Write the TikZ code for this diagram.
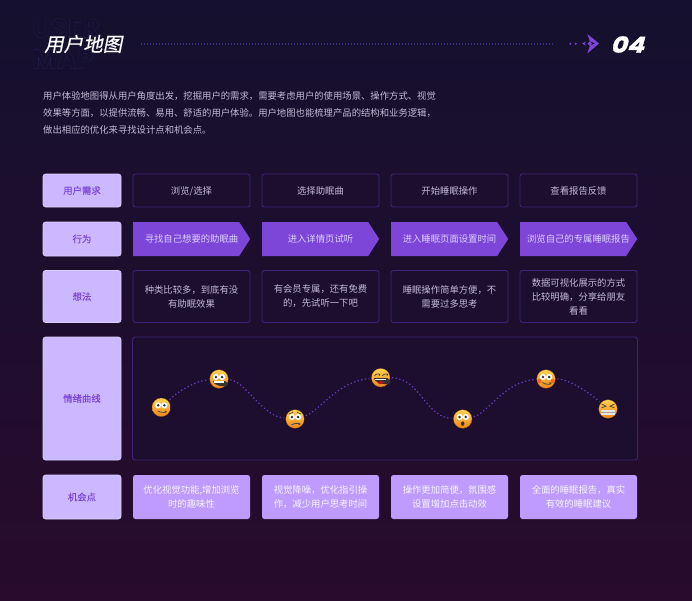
\documentclass[tikz,border=0pt]{standalone}
\usepackage{fontspec}
\usepackage{xcolor}
\usetikzlibrary{shapes.symbols}
\setmainfont{Noto Sans CJK SC}
\newfontfamily\titlefont[FakeSlant=0.2,FakeBold=0.6]{Noto Sans CJK SC}
\newfontfamily\medfont[FakeBold=0.15]{Noto Sans CJK SC}
\newfontfamily\ghostfont[FakeBold=0.3]{Poppins Bold}
\newfontfamily\numfont[FakeSlant=0.28,FakeBold=1.5,FakeStretch=1.15]{Poppins}

\definecolor{bgtop}{HTML}{15102F}
\definecolor{bgbot}{HTML}{280B2D}
\definecolor{lilac}{HTML}{CBB8FF}
\definecolor{lilacline}{HTML}{DCCFFF}
\definecolor{violet}{HTML}{7D45D8}
\definecolor{softviolet}{HTML}{BF9BFF}
\definecolor{frameline}{HTML}{3D2275}
\definecolor{framefill}{HTML}{1D0E30}
\definecolor{bodytext}{HTML}{C2B9D4}
\definecolor{dotline}{HTML}{6A38C0}
\definecolor{headdot}{HTML}{3F2C7E}
\definecolor{skinin}{HTML}{FFD24E}
\definecolor{skinout}{HTML}{F0851E}

\newcommand{\ghosttext}[1]{\special{pdf:code q 0.2 0.16 0.38 RG 0.082 0.063 0.184 rg}#1\special{pdf:code Q}}

\tikzset{
  base/.style={font=\fontsize{9.35}{14}\selectfont,align=center,inner sep=0pt},
  lab/.style={base,font=\fontsize{9.35}{14}\medfont,rectangle,rounded corners=2.5pt,draw=lilacline,line width=0.6pt,fill=lilac,text=violet,minimum width=78pt},
  frame/.style={base,rectangle,rounded corners=2.5pt,draw=frameline,line width=0.9pt,fill=framefill,text=bodytext,minimum width=117pt},
  act/.style={inner sep=0pt,signal,signal to=east,signal pointer angle=114,fill=violet,minimum width=117pt,minimum height=34pt,anchor=west},
  acttxt/.style={base,text=lilacline},
  opp/.style={base,rectangle,rounded corners=2.5pt,fill=softviolet,text=white!88!softviolet,minimum width=117pt,minimum height=44pt},
  ghost/.style={anchor=west,inner sep=0pt,font=\fontsize{27}{20}\ghostfont},
  face/.style={circle,minimum size=18.6pt,inner sep=0pt,outer sep=2pt,draw=black!45!skinout,line width=0.2pt,top color=skinin,bottom color=skinout},
  curve/.style={draw=dotline,line width=1.2pt,dash pattern=on 1.3pt off 2.4pt},
  faceeyes/.pic={
    \fill[white] (-3.1,-2) circle (3.1) (3.1,-2) circle (3.1);
    \fill[black!80] (-3.1,-2) circle (1.4) (3.1,-2) circle (1.4);
  }
}

\begin{document}
\begin{tikzpicture}[x=1pt,y=-1pt]
  \shade[top color=bgtop,bottom color=bgbot] (0,0) rectangle (692,600);
  \useasboundingbox (0,0) rectangle (692,600);

  % header
  \node[ghost] (ghost1) at (32,28) {\ghosttext{USER}};
  \node[ghost] (ghost2) at (32,59) {\ghosttext{MAP}};
  \node[anchor=west,inner sep=0pt,text=white,font=\fontsize{19.5}{20}\titlefont] (title) at (44,44) {用户地图};
  \node[anchor=west,inner sep=0pt,text=white,font=\fontsize{22}{20}\numfont\bfseries] (num) at (610,44.5) {04};

  \coordinate (rulea) at (141,44);
  \coordinate (ruleb) at (554,44);
  \draw[headdot,line width=1.2pt,dash pattern=on 1.2pt off 1.8pt] (rulea) -- (ruleb);
  \fill[violet] (570.3,43.8) circle (1.1) (575.7,43.8) circle (1.1);
  \fill[violet] (587.3,34) -- (599,43.5) -- (587.3,53.5) -- (590,45.5) -- (595.5,43.5) -- (590,41.5) -- cycle;
  \fill[violet] (589.7,41.3) -- (592,43.6) -- (589.7,45.9) -- (587.4,43.6) -- cycle;
  \fill[violet] (586,41.5) -- (582,43.6) -- (586,45.7) -- (584.5,43.6) -- cycle;

  \node[anchor=north west,inner sep=0pt,align=left,text=bodytext,font=\fontsize{9.35}{16.8}\selectfont] (intro) at (43,91.5) {用户体验地图得从用户角度出发，挖掘用户的需求，需要考虑用户的使用场景、操作方式、视觉\\效果等方面，以提供流畅、易用、舒适的用户体验。用户地图也能梳理产品的结构和业务逻辑，\\做出相应的优化来寻找设计点和机会点。};

  % left column
  \node[lab,minimum height=33pt] (lab1) at (82,190.5) {用户需求};
  \node[lab,minimum height=34pt] (lab2) at (82,239) {行为};
  \node[lab,minimum height=52pt] (lab3) at (82,296.5) {想法};
  \node[lab,minimum height=123pt] (lab4) at (82,398.5) {情绪曲线};
  \node[lab,minimum height=44pt] (lab5) at (82,497) {机会点};

  % user needs
  \node[frame,minimum height=33pt] (need1) at (191.5,190.5) {浏览\smash{/}选择};
  \node[frame,minimum height=33pt] (need2) at (320.5,190.5) {选择助眠曲};
  \node[frame,minimum height=33pt] (need3) at (449.5,190.5) {开始睡眠操作};
  \node[frame,minimum height=33pt] (need4) at (578.5,190.5) {查看报告反馈};

  % actions
  \node[act] (act1) at (133,239) {};
  \node[act] (act2) at (262,239) {};
  \node[act] (act3) at (391,239) {};
  \node[act] (act4) at (520,239) {};
  \node[acttxt] (acttxt1) at (191.5,239) {寻找自己想要的助眠曲};
  \node[acttxt] (acttxt2) at (320.5,239) {进入详情页试听};
  \node[acttxt] (acttxt3) at (449.5,239) {进入睡眠页面设置时间};
  \node[acttxt] (acttxt4) at (578.5,239) {浏览自己的专属睡眠报告};

  % thoughts
  \node[frame,minimum height=52pt] (thk1) at (191.5,296.5) {种类比较多，到底有没\\有助眠效果};
  \node[frame,minimum height=52pt] (thk2) at (320.5,296.5) {有会员专属，还有免费\\的，先试听一下吧};
  \node[frame,minimum height=52pt] (thk3) at (449.5,296.5) {睡眠操作简单方便，不\\需要过多思考};
  \node[frame,minimum height=52pt] (thk4) at (578.5,296.5) {数据可视化展示的方式\\比较明确，分享给朋友\\看看};

  % emotion curve
  \node[frame,minimum width=505pt,minimum height=123pt] (panel) at (385,398.5) {};
  \node[face] (f1) at (161.3,407.3) {};
  \node[face] (f2) at (219,379) {};
  \node[face] (f3) at (295,419) {};
  \node[face] (f4) at (380.7,377.7) {};
  \node[face] (f5) at (462.7,419) {};
  \node[face] (f6) at (546,379) {};
  \node[face] (f7) at (608,409) {};

  \draw[curve] (f1) .. controls (181,389) and (196,381) .. (f2);
  \draw[curve] (f2) .. controls (245,381) and (262,416) .. (f3);
  \draw[curve] (f3) .. controls (318,412) and (338,381) .. (f4);
  \draw[curve] (f4) .. controls (420,378) and (425,417) .. (f5);
  \draw[curve] (f5) .. controls (487,414) and (505,381) .. (f6);
  \draw[curve] (f6) .. controls (570,379) and (592,395) .. (f7);

  \path (f1) pic {faceeyes};
  \draw[black!75,line width=0.7pt] ([shift={(-3.5,3.5)}]f1.center) .. controls +(1.5,2.2) and +(5.5,2.2) .. +(7,0);

  \path (f2) pic {faceeyes};
  \fill[black!80] ([shift={(-6,2)}]f2.center) -- +(12,0) .. controls +(11,7) and +(1,7) .. +(0,0) -- cycle;
  \fill[white] ([shift={(-5.4,2.2)}]f2.center) rectangle +(10.8,1.6);

  \path (f3) pic {faceeyes};
  \draw[black!75,line width=0.6pt] ([shift={(-6,-5)}]f3.center) -- +(4,-1.8) ([shift={(6,-5)}]f3.center) -- +(-4,-1.8);
  \draw[black!75,line width=0.8pt] ([shift={(-3.5,6)}]f3.center) .. controls +(1.5,-2.2) and +(5.5,-2.2) .. +(7,0);

  \draw[black!75,line width=0.7pt] ([shift={(-6.2,-2)}]f4.center) .. controls +(1,-2.4) and +(3.5,-2.4) .. +(4.5,0);
  \draw[black!75,line width=0.7pt] ([shift={(1.7,-2)}]f4.center) .. controls +(1,-2.4) and +(3.5,-2.4) .. +(4.5,0);
  \fill[black!80] ([shift={(-6.5,0.5)}]f4.center) -- +(13,0) .. controls +(12,8) and +(1,8) .. +(0,0) -- cycle;
  \fill[white] ([shift={(-5.6,0.8)}]f4.center) rectangle +(11.2,1.5);
  \fill[red!65!black!90!white] ([shift={(0,4.9)}]f4.center) ellipse (3.2 and 1.4);

  \path (f5) pic {faceeyes};
  \fill[black!80] ([shift={(0,4.6)}]f5.center) ellipse (1.7 and 2.2);

  \fill[red!70!orange,opacity=0.5] ([shift={(-6.8,2)}]f6.center) circle (2.2) ([shift={(6.8,2)}]f6.center) circle (2.2);
  \path (f6) pic {faceeyes};
  \draw[black!75,line width=0.8pt] ([shift={(-3.5,3.5)}]f6.center) .. controls +(1.5,2.4) and +(5.5,2.4) .. +(7,0);

  \draw[black!75,line width=0.7pt] ([shift={(-6.5,-5)}]f7.center) -- +(4.5,2.2) -- +(0,3.8);
  \draw[black!75,line width=0.7pt] ([shift={(6.5,-5)}]f7.center) -- +(-4.5,2.2) -- +(0,3.8);
  \fill[white!90!black] ([shift={(-7,0.5)}]f7.center) rectangle +(14,5);
  \draw[black!35,line width=0.4pt] ([shift={(-7,3)}]f7.center) -- +(14,0);

  % opportunities
  \node[opp] (opp1) at (191.5,497) {优化视觉功能,增加浏览\\时的趣味性};
  \node[opp] (opp2) at (320.5,497) {视觉降噪，优化指引操\\作，减少用户思考时间};
  \node[opp] (opp3) at (449.5,497) {操作更加简便，氛围感\\设置增加点击动效};
  \node[opp] (opp4) at (578.5,497) {全面的睡眠报告，真实\\有效的睡眠建议};
\end{tikzpicture}
\end{document}
